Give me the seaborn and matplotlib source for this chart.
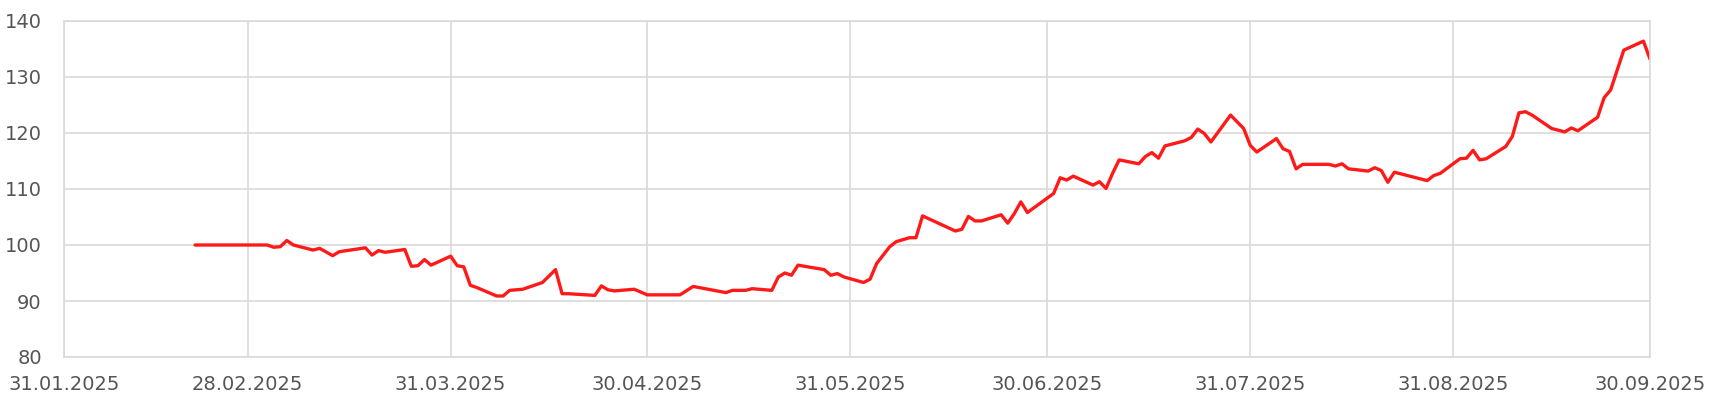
import matplotlib
matplotlib.use("Agg")
import matplotlib.pyplot as plt
import seaborn as sns
import pandas as pd

dates = [
    "2025-02-20", "2025-03-03", "2025-03-04", "2025-03-05", "2025-03-06", "2025-03-07",
    "2025-03-10", "2025-03-11", "2025-03-13", "2025-03-14", "2025-03-18", "2025-03-19",
    "2025-03-20", "2025-03-21", "2025-03-24", "2025-03-25", "2025-03-26", "2025-03-27",
    "2025-03-28", "2025-03-31", "2025-04-01", "2025-04-02", "2025-04-03", "2025-04-04",
    "2025-04-07", "2025-04-08", "2025-04-09", "2025-04-11", "2025-04-14", "2025-04-16",
    "2025-04-17", "2025-04-18", "2025-04-22", "2025-04-23", "2025-04-24", "2025-04-25",
    "2025-04-28", "2025-04-30", "2025-05-05", "2025-05-07", "2025-05-12", "2025-05-13",
    "2025-05-15", "2025-05-16", "2025-05-19", "2025-05-20", "2025-05-21", "2025-05-22",
    "2025-05-23", "2025-05-27", "2025-05-28", "2025-05-29", "2025-05-30", "2025-06-02",
    "2025-06-03", "2025-06-04", "2025-06-06", "2025-06-07", "2025-06-09", "2025-06-10",
    "2025-06-11", "2025-06-16", "2025-06-17", "2025-06-18", "2025-06-19", "2025-06-20",
    "2025-06-23", "2025-06-24", "2025-06-25", "2025-06-26", "2025-06-27", "2025-07-01",
    "2025-07-02", "2025-07-03", "2025-07-04", "2025-07-07", "2025-07-08", "2025-07-09",
    "2025-07-10", "2025-07-11", "2025-07-14", "2025-07-15", "2025-07-16", "2025-07-17",
    "2025-07-18", "2025-07-21", "2025-07-22", "2025-07-23", "2025-07-24", "2025-07-25",
    "2025-07-28", "2025-07-30", "2025-07-31", "2025-08-01", "2025-08-04", "2025-08-05",
    "2025-08-06", "2025-08-07", "2025-08-08", "2025-08-12", "2025-08-13", "2025-08-14",
    "2025-08-15", "2025-08-18", "2025-08-19", "2025-08-20", "2025-08-21", "2025-08-22",
    "2025-08-27", "2025-08-28", "2025-08-29", "2025-09-01", "2025-09-02", "2025-09-03",
    "2025-09-04", "2025-09-05", "2025-09-08", "2025-09-09", "2025-09-10", "2025-09-11",
    "2025-09-12", "2025-09-15", "2025-09-17", "2025-09-18", "2025-09-19", "2025-09-22",
    "2025-09-23", "2025-09-24", "2025-09-26", "2025-09-29", "2025-09-30",
]
values = [
    100.0, 100.0, 99.6, 99.7, 100.8, 100.0,
    99.1, 99.4, 98.1, 98.8, 99.5, 98.2,
    99.0, 98.7, 99.2, 96.2, 96.3, 97.4,
    96.4, 98.0, 96.3, 96.1, 92.8, 92.4,
    90.9, 90.9, 91.9, 92.1, 93.3, 95.6,
    91.3, 91.3, 91.0, 92.7, 92.0, 91.8,
    92.1, 91.1, 91.1, 92.6, 91.5, 91.9,
    91.9, 92.2, 91.9, 94.3, 95.0, 94.6,
    96.4, 95.6, 94.6, 94.9, 94.3, 93.3,
    93.9, 96.7, 99.7, 100.6, 101.3, 101.3,
    105.2, 102.5, 102.8, 105.1, 104.3, 104.3,
    105.4, 103.9, 105.6, 107.7, 105.8, 109.2,
    112.0, 111.6, 112.3, 110.7, 111.3, 110.1,
    112.8, 115.2, 114.5, 115.8, 116.5, 115.5,
    117.7, 118.6, 119.2, 120.7, 119.9, 118.4,
    123.2, 120.8, 117.8, 116.6, 119.0, 117.2,
    116.7, 113.6, 114.4, 114.4, 114.1, 114.5,
    113.6, 113.2, 113.8, 113.3, 111.2, 113.0,
    111.5, 112.4, 112.8, 115.4, 115.5, 116.9,
    115.2, 115.4, 117.6, 119.4, 123.6, 123.8,
    123.2, 120.8, 120.2, 120.9, 120.4, 122.8,
    126.3, 127.7, 134.8, 136.4, 133.2,
]
tick_dates = ["2025-01-31", "2025-02-28", "2025-03-31", "2025-04-30", "2025-05-31",
              "2025-06-30", "2025-07-31", "2025-08-31", "2025-09-30"]
tick_labels = ["31.01.2025", "28.02.2025", "31.03.2025", "30.04.2025", "31.05.2025",
               "30.06.2025", "31.07.2025", "31.08.2025", "30.09.2025"]
y_ticks = [80, 90, 100, 110, 120, 130, 140]

df = pd.DataFrame({"date": pd.to_datetime(dates), "value": values})

sns.set_theme(style="whitegrid")
plt.rcParams["font.family"] = ["DejaVu Sans"]

fig = plt.figure(figsize=(17.13, 4.01), dpi=100)
ax = fig.add_axes([64/1713, 1-357/401, (1650-64)/1713, (357-21)/401])

sns.lineplot(data=df, x="date", y="value", ax=ax, color="#ff1a1a", linewidth=2.4)

grid_c = "#d9d9d9"
txt_c = "#555555"
fs = 14
ax.set_xlim(pd.Timestamp("2025-01-31"), pd.Timestamp("2025-09-30"))
ax.set_ylim(80, 140)
ax.set_xticks(pd.to_datetime(tick_dates))
ax.set_xticklabels(tick_labels, fontsize=fs, color=txt_c)
ax.set_yticks(y_ticks)
ax.set_yticklabels([str(v) for v in y_ticks], fontsize=fs, color=txt_c)
ax.grid(True, color=grid_c, linewidth=1.2)
for s in ax.spines.values():
    s.set_visible(True)
    s.set_color(grid_c)
    s.set_linewidth(1.2)
ax.set_facecolor("white")
ax.tick_params(axis="both", length=0)
ax.tick_params(axis="y", pad=16)
ax.tick_params(axis="x", pad=13)
ax.set_xlabel("")
ax.set_ylabel("")

fig.savefig("out.png", dpi=100, facecolor="white")
